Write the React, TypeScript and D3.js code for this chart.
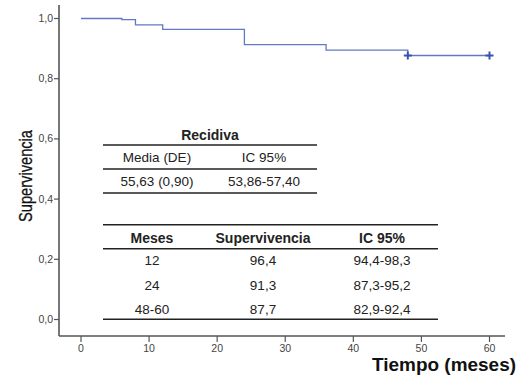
import React from "react";
import * as d3 from "d3";

const times = [0, 6, 8, 12, 24, 36, 48, 60];
const survival = [1.0, 0.996, 0.979, 0.964, 0.913, 0.895, 0.877, 0.877];
const censoredTimes = [48, 60];
const censoredSurv = [0.877, 0.877];
const xTicks = [0, 10, 20, 30, 40, 50, 60];
const yTicks = [0, 0.2, 0.4, 0.6, 0.8, 1.0];

const t1Title = "Recidiva";
const t1Header = ["Media (DE)", "IC 95%"];
const t1Row = ["55,63 (0,90)", "53,86-57,40"];
const t2Header = ["Meses", "Supervivencia", "IC 95%"];
const t2Months = ["12", "24", "48-60"];
const t2Surv = ["96,4", "91,3", "87,7"];
const t2CI = ["94,4-98,3", "87,3-95,2", "82,9-92,4"];

export default function App() {
  const W = 519, H = 375;
  const x = d3.scaleLinear().domain([0, 60]).range([81, 489.5]);
  const y = d3.scaleLinear().domain([0, 1]).range([319.5, 18.5]);
  const pts = times.map((t, i) => [x(t), y(survival[i])] as [number, number]);
  const line = d3.line().curve(d3.curveStepAfter)(pts) || "";
  const axisX = 59, axisY = 336;
  const font = "Liberation Sans, Arial, sans-serif";
  const txt = "#222";
  const fsN = 13.5, fsB = 14;

  const t1Cols = [157, 264];
  const t2Cols = [152, 263, 382];
  const t2Rows = [260.7, 285.3, 309.7];

  return (
    <svg width={W} height={H} style={{ position: "absolute", left: 0, top: 0, background: "#fff" }} fontFamily={font}>
      {/* axes */}
      <line x1={axisX} x2={axisX} y1={5} y2={axisY} stroke="#555" strokeWidth={1.6} />
      <line x1={axisX} x2={505} y1={axisY} y2={axisY} stroke="#555" strokeWidth={1.6} />
      {yTicks.map((v) => (
        <g key={"y" + v}>
          <line x1={axisX - 5} x2={axisX} y1={y(v)} y2={y(v)} stroke="#555" strokeWidth={1.2} />
          <text x={axisX - 6} y={y(v) + 3.5} textAnchor="end" fontSize={10.5} fill="#444">
            {v.toFixed(1).replace(".", ",")}
          </text>
        </g>
      ))}
      {xTicks.map((v) => (
        <g key={"x" + v}>
          <line x1={x(v)} x2={x(v)} y1={axisY} y2={axisY + 6} stroke="#555" strokeWidth={1.2} />
          <text x={x(v)} y={352} textAnchor="middle" fontSize={10.5} fill="#444">{v}</text>
        </g>
      ))}
      <text transform="translate(31.5,176) rotate(-90)" textAnchor="middle" fontSize={19} fill="#111"
        stroke="#111" strokeWidth={0.3}
        textLength={92} lengthAdjust="spacingAndGlyphs">Supervivencia</text>
      <text x={372} y={371} fontSize={18.5} fontWeight="bold" fill="#111"
        textLength={144} lengthAdjust="spacingAndGlyphs">Tiempo (meses)</text>

      {/* curve */}
      <path d={line} fill="none" stroke="#6378c4" strokeWidth={1.3} />
      {censoredTimes.map((t, i) => (
        <g key={"c" + i} stroke="#3b52ad" strokeWidth={2}>
          <line x1={x(t) - 4} x2={x(t) + 4} y1={y(censoredSurv[i])} y2={y(censoredSurv[i])} />
          <line x1={x(t)} x2={x(t)} y1={y(censoredSurv[i]) - 4} y2={y(censoredSurv[i]) + 4} />
        </g>
      ))}

      {/* table 1 */}
      <text x={210} y={139.5} textAnchor="middle" fontSize={fsB} fontWeight="bold" fill={txt}>{t1Title}</text>
      <line x1={103} x2={317} y1={145} y2={145} stroke="#222" strokeWidth={1.5} />
      {t1Header.map((h, i) => (
        <text key={"h1" + i} x={t1Cols[i]} y={162} textAnchor="middle" fontSize={fsN} fill={txt}>{h}</text>
      ))}
      <line x1={103} x2={317} y1={169} y2={169} stroke="#222" strokeWidth={1.5} />
      {t1Row.map((h, i) => (
        <text key={"r1" + i} x={t1Cols[i]} y={186} textAnchor="middle" fontSize={fsN} fill={txt}>{h}</text>
      ))}
      <line x1={103} x2={317} y1={193} y2={193} stroke="#222" strokeWidth={1.5} />

      {/* table 2 */}
      <line x1={103} x2={438} y1={224.7} y2={224.7} stroke="#222" strokeWidth={1.5} />
      {t2Header.map((h, i) => (
        <text key={"h2" + i} x={t2Cols[i]} y={243} textAnchor="middle" fontSize={fsB} fontWeight="bold" fill={txt}>{h}</text>
      ))}
      <line x1={103} x2={438} y1={248.7} y2={248.7} stroke="#222" strokeWidth={1.5} />
      {t2Months.map((m, i) => (
        <g key={"r2" + i}>
          <text x={t2Cols[0]} y={t2Rows[i] + 4.5} textAnchor="middle" fontSize={fsN} fill={txt}>{m}</text>
          <text x={t2Cols[1]} y={t2Rows[i] + 4.5} textAnchor="middle" fontSize={fsN} fill={txt}>{t2Surv[i]}</text>
          <text x={t2Cols[2]} y={t2Rows[i] + 4.5} textAnchor="middle" fontSize={fsN} fill={txt}>{t2CI[i]}</text>
        </g>
      ))}
      <line x1={103} x2={438} y1={319.3} y2={319.3} stroke="#222" strokeWidth={1.5} />
    </svg>
  );
}
